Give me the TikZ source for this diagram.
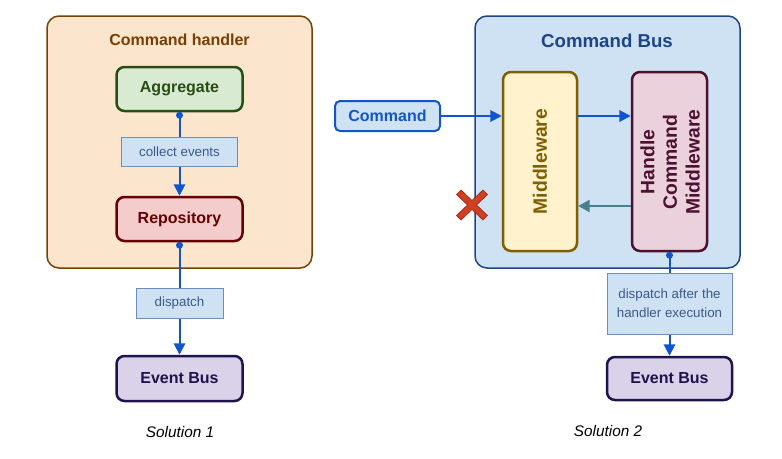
\documentclass[tikz,border=0pt]{standalone}
\usepackage{fontspec}
\setmainfont{Liberation Sans}
\usetikzlibrary{arrows.meta}
\newlength\px
\setlength\px{0.75pt}
\definecolor{peachfill}{HTML}{FCE5CD}
\definecolor{peachline}{HTML}{783F04}
\definecolor{greenfill}{HTML}{D9EAD3}
\definecolor{greenline}{HTML}{274E13}
\definecolor{redfill}{HTML}{F4CCCC}
\definecolor{redline}{HTML}{660000}
\definecolor{purpfill}{HTML}{D9D2E9}
\definecolor{purpline}{HTML}{20124D}
\definecolor{bluefill}{HTML}{CFE2F3}
\definecolor{busline}{HTML}{1C4587}
\definecolor{labline}{HTML}{6C8EBF}
\definecolor{labtext}{HTML}{3C5A88}
\definecolor{conncol}{HTML}{1155CC}
\definecolor{yelfill}{HTML}{FFF2CC}
\definecolor{yelline}{HTML}{7F6000}
\definecolor{pinkfill}{HTML}{EAD1DC}
\definecolor{pinkline}{HTML}{4C1130}
\definecolor{tealcol}{HTML}{45818E}
\definecolor{crossred}{HTML}{CC4125}
\definecolor{crossline}{HTML}{A61C00}
\tikzset{
  outerbox/.style={draw, line width=1.5\px, rounded corners=12\px, inner sep=0pt},
  innerbox/.style={draw, line width=2.5\px, rounded corners=8\px, inner sep=0pt,
    font=\bfseries\fontsize{12}{14}\selectfont},
  labelbox/.style={draw=labline, fill=bluefill, line width=1\px, inner sep=0pt,
    text=labtext, font=\fontsize{10}{14.5}\selectfont, align=center},
  connector/.style={draw=conncol, line width=2\px, -{Triangle[length=8.5pt,width=8.5pt]}},
  dotc/.style={fill=conncol},
  vtext/.style={rotate=90, font=\bfseries\fontsize{14.5}{17}\selectfont, align=center},
  caption/.style={font=\itshape\fontsize{11.5}{14}\selectfont},
}
\begin{document}
\begin{tikzpicture}[x=\px, y=-\px]
\useasboundingbox (0,0) rectangle (782,458);
% ---------- Solution 1 ----------
\node[outerbox, draw=peachline, fill=peachfill, minimum width=265\px, minimum height=252\px]
  (handler) at (179.5,142) {};
\node[text=peachline, font=\bfseries\fontsize{12}{14}\selectfont] (handlertitle) at (179.5,40) {Command handler};
\node[innerbox, draw=greenline, fill=greenfill, text=greenline, minimum width=126\px, minimum height=44\px]
  (agg) at (179.5,89) {Aggregate};
\node[innerbox, draw=redline, fill=redfill, text=redline, minimum width=126\px, minimum height=44\px]
  (repo) at (179.5,219) {Repository};
\node[innerbox, draw=purpline, fill=purpfill, text=purpline, minimum width=126\px, minimum height=45\px]
  (eb1) at (179.5,378.5) {Event Bus};
\draw[connector] (agg.south) -- (repo.north);
\draw[connector] (repo.south) -- (eb1.north);
\fill[dotc] (agg.south) ++(0,3) circle (3.5);
\fill[dotc] (repo.south) ++(0,3) circle (3.5);
\node[labelbox, minimum width=116\px, minimum height=29\px] (collect) at (179.5,151.5) {collect events};
\node[labelbox, minimum width=87\px, minimum height=30\px] (dispatch1) at (179.5,303) {dispatch};
\node[caption] (sol1) at (180,432) {Solution 1};
% ---------- Solution 2 ----------
\node[outerbox, draw=busline, fill=bluefill, minimum width=265\px, minimum height=252\px]
  (bus) at (607.5,142) {};
\node[text=busline, font=\bfseries\fontsize{14}{16}\selectfont] (bustitle) at (607,41) {Command Bus};
\node[innerbox, draw=yelline, fill=yelfill, minimum width=74\px, minimum height=179\px]
  (mw) at (540,161.5) {};
\node[vtext, text=yelline] (mwtext) at (540,161.5) {Middleware};
\node[innerbox, draw=pinkline, fill=pinkfill, minimum width=75\px, minimum height=179\px]
  (hcm) at (669.5,161.5) {};
\node[vtext, text=pinkline] (hcmtext) at (670,162) {Handle\\Command\\Middleware};
\node[draw=conncol, fill=bluefill, line width=2\px, rounded corners=5\px, inner sep=0pt,
  text=conncol, font=\bfseries\fontsize{12}{14}\selectfont, minimum width=105\px, minimum height=30\px]
  (cmd) at (387.5,116) {Command};
\draw[connector] (cmd.east) -- (cmd.east -| mw.west);
\draw[connector] (mw.east |- cmd.east) -- (cmd.east -| hcm.west);
\coordinate (ret) at (669.5,206);
\draw[draw=tealcol, line width=2\px, -{Triangle[length=8.5pt,width=9pt]}] (ret -| hcm.west) -- (ret -| mw.east);
\node[innerbox, draw=purpline, fill=purpfill, text=purpline, minimum width=125\px, minimum height=43\px]
  (eb2) at (669.5,378.5) {Event Bus};
\draw[connector] (hcm.south) -- (eb2.north);
\fill[dotc] (hcm.south) ++(0,3) circle (3.5);
\node[labelbox, minimum width=125\px, minimum height=61\px] (dispatch2) at (669.5,303.5)
  {dispatch after the\\handler execution};
\node[caption] (sol2) at (608,431) {Solution 2};
% red cross
\begin{scope}[shift={(472,205)}]
  \filldraw[fill=crossred, draw=crossline, line width=0.6\px]
    (-11,-15) -- (0,-4.5) -- (11,-15) -- (15.5,-10.5) -- (4.5,0) -- (15.5,10.5) -- (11,15)
    -- (0,4.5) -- (-11,15) -- (-15.5,10.5) -- (-4.5,0) -- (-15.5,-10.5) -- cycle;
\end{scope}
\end{tikzpicture}
\end{document}
